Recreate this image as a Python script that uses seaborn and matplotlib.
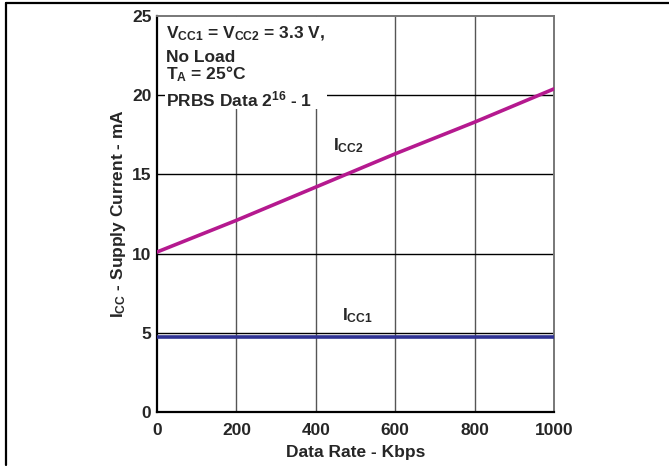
"""Supply current vs data rate, redrawn with seaborn."""

import numpy as np
import pandas as pd
import seaborn as sns
import matplotlib.pyplot as plt
from matplotlib.lines import Line2D

# data
data_rate = [0, 200, 400, 600, 800, 1000]
icc1 = [4.75, 4.75, 4.75, 4.75, 4.75, 4.75]
icc2 = [10.1, 12.1, 14.2, 16.3, 18.3, 20.4]
x_ticks = [0, 200, 400, 600, 800, 1000]
y_ticks = [0, 5, 10, 15, 20, 25]

df = pd.DataFrame({'rate': data_rate * 2,
                   'current': icc1 + icc2,
                   'series': ['ICC1'] * len(icc1) + ['ICC2'] * len(icc2)})

sns.set_style('white')
plt.rcParams['font.family'] = ['Liberation Sans', 'DejaVu Sans']
plt.rcParams['font.weight'] = 'bold'
plt.rcParams['mathtext.fontset'] = 'custom'
plt.rcParams['mathtext.bf'] = 'Liberation Sans:bold'
plt.rcParams['mathtext.rm'] = 'Liberation Sans:bold'
plt.rcParams['mathtext.default'] = 'bf'

fig = plt.figure(figsize=(6.69, 4.66), dpi=100)
ax = fig.add_axes([157 / 669, 1 - 412 / 466, (554 - 157) / 669, (412 - 16) / 466])

# grid: gray verticals, black horizontals
for xv in x_ticks[1:-1]:
    ax.axvline(xv, color='#555555', lw=1.0, zorder=1)
for yv in y_ticks[1:-1]:
    ax.axhline(yv, color='black', lw=1.0, zorder=1)

sns.lineplot(data=df, x='rate', y='current', hue='series',
             palette={'ICC1': '#2e3192', 'ICC2': '#b5198f'},
             lw=2.6, legend=False, ax=ax, zorder=3)

ax.set_xlim(0, 1000)
ax.set_ylim(0, 25)
ax.set_xticks(x_ticks)
ax.set_yticks(y_ticks)
ax.tick_params(labelsize=12.5, length=0)
ax.tick_params(axis='x', pad=8)
ax.tick_params(axis='y', pad=4)
for lab in ax.get_xticklabels() + ax.get_yticklabels():
    lab.set_fontweight('bold')

for side in ['left', 'bottom']:
    ax.spines[side].set_color('black')
    ax.spines[side].set_linewidth(1.6)
for side in ['top', 'right']:
    ax.spines[side].set_color('#777777')
    ax.spines[side].set_linewidth(1.4)

ax.set_xlabel('Data Rate - Kbps', fontsize=12.5, fontweight='bold', labelpad=5)
ax.set_ylabel(r'I$_{CC}$ - Supply Current - mA', fontsize=12.5,
              fontweight='bold', labelpad=3)

# condition box at top left
box = plt.Rectangle((20, 19.1), 408, 5.85, transform=ax.transData,
                    facecolor='white', edgecolor='none', zorder=2)
ax.add_patch(box)
fs = 12.5
ax.text(22, 23.6, r'V$_{CC1}$ = V$_{CC2}$ = 3.3 V,', fontsize=fs,
        fontweight='bold', va='baseline', zorder=4)
ax.text(22, 22.1, 'No Load', fontsize=fs, fontweight='bold', va='baseline', zorder=4)
ax.text(22, 21.0, r'T$_{A}$ = 25°C', fontsize=fs, fontweight='bold',
        va='baseline', zorder=4)
ax.text(22, 19.3, r'PRBS Data 2$^{16}$ - 1', fontsize=fs,
        fontweight='bold', va='baseline', zorder=4)

ax.text(443, 16.5, r'I$_{CC2}$', fontsize=fs, fontweight='bold', zorder=4)
ax.text(466, 5.8, r'I$_{CC1}$', fontsize=fs, fontweight='bold', zorder=4)

# outer frame lines (top and left edges of the page)
fig.add_artist(Line2D([6 / 669, 1], [1 - 3 / 466, 1 - 3 / 466], color='black', lw=1.6))
fig.add_artist(Line2D([6 / 669, 6 / 669], [1 - 3 / 466, 1 - 465 / 466], color='black', lw=1.6))

fig.savefig('out.png', dpi=100)
